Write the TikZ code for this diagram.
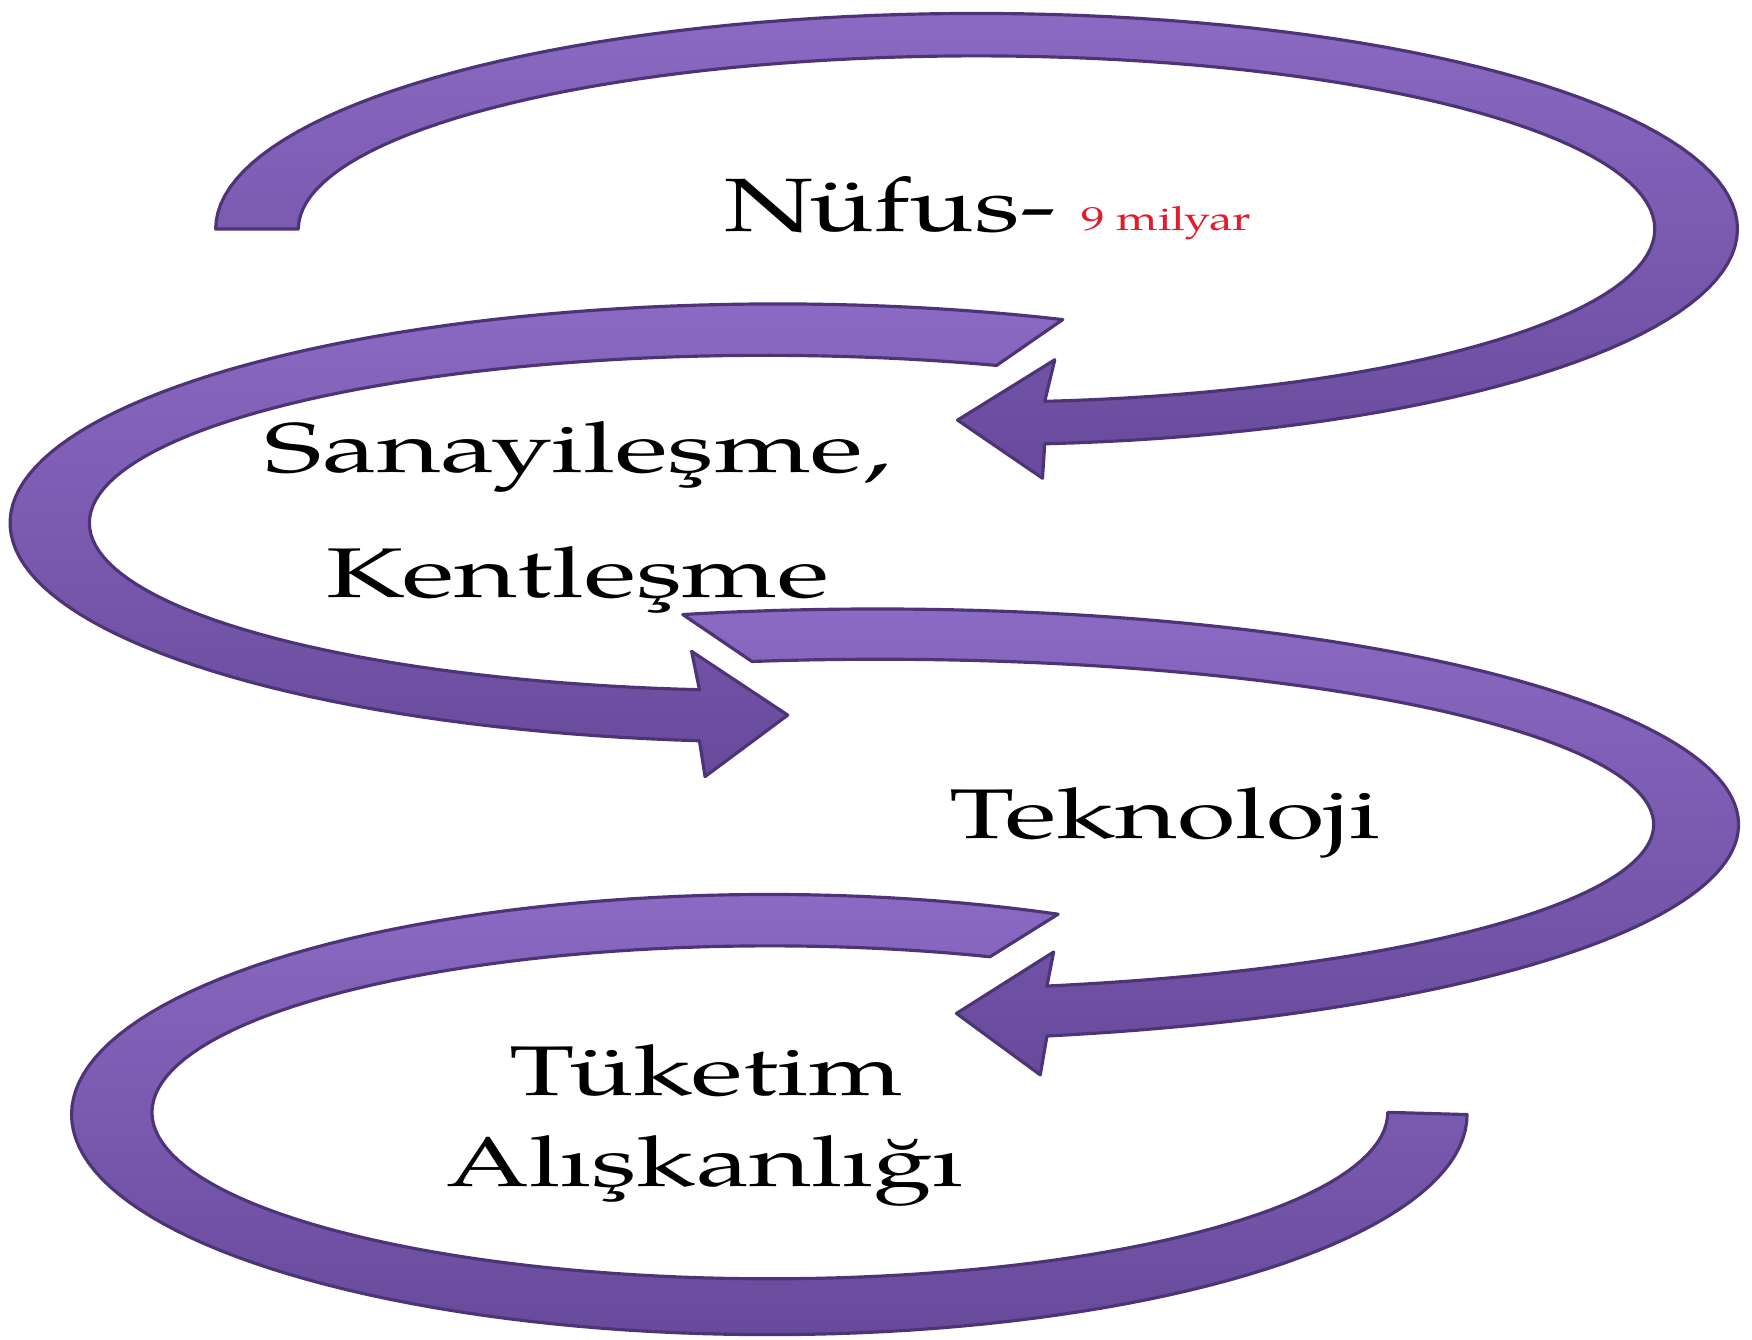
\documentclass[tikz,border=0pt]{standalone}
\usepackage{fontspec}
\setmainfont{TeX Gyre Pagella}
\usepackage{graphicx}
\usetikzlibrary{calc}
\newlength\pxu
\setlength\pxu{0.1117mm}
\definecolor{arrtop}{RGB}{138,106,194}
\definecolor{arrbot}{RGB}{104,74,156}
\definecolor{arredge}{RGB}{76,52,118}
\definecolor{redtxt}{RGB}{222,30,45}
\pgfdeclareradialshading{vign}{\pgfpoint{0bp}{0bp}}{color(0bp)=(white); color(36bp)=(white); color(71bp)=(black!10)}
\begin{document}
\begin{tikzpicture}[x=0.1117mm, y=0.1117mm,
  band/.style={top color=arrtop, bottom color=arrbot, draw=arredge, line width=0.9pt, line join=round},
  lbl/.style={anchor=base west, inner sep=0pt, outer sep=0pt, text=black}]
\shade[shading=vign] (0,0) rectangle (1568,-1199);
\useasboundingbox (0,0) rectangle (1568,-1199);

% Arrow 1 (top loop, head pointing left)
\path[band] plot[domain=180:-84.86, samples=120, variable=\t] ({874+681*cos(\t)},{-205+193*sin(\t)})
  -- (933,-428) -- (857,-376) -- (944,-322)
  -- plot[domain=-84.23:180, samples=120, variable=\t] ({874+607*cos(\t)},{-205+155*sin(\t)}) -- cycle;

% Arrow 2 (left loop, head pointing right)
\path[band] plot[domain=68.2:264.15, samples=100, variable=\t] ({696+687*cos(\t)},{-468+196*sin(\t)})
  -- (631,-695) -- (705,-640) -- (619,-583)
  -- plot[domain=264.4:70, samples=100, variable=\t] ({685+605*cos(\t)},{-468+150*sin(\t)}) -- cycle;

% Arrow 3 (right loop, head pointing left)
\path[band] plot[domain=103.04:-78.63, samples=120, variable=\t] ({785+771*cos(\t)},{-738+193*sin(\t)})
  -- (931,-962) -- (856,-907) -- (943,-852)
  -- plot[domain=-77.5:99.47, samples=120, variable=\t] ({787+693*cos(\t)},{-738+148*sin(\t)}) -- cycle;

% Arrow 4 (bottom loop, open end)
\path[band] plot[domain=65.55:360, samples=140, variable=\t] ({688.5+624.5*cos(\t)},{-997.5+197*sin(\t)})
  -- plot[domain=360:69.13, samples=140, variable=\t] ({689+553*cos(\t)},{-995.5+149*sin(\t)}) -- cycle;

% Labels
\node[lbl] (nufus) at (648,-207) {\resizebox{297\pxu}{\height}{\fontsize{21.5}{26}\selectfont Nüfus-}};
\node[lbl, text=redtxt] (milyar) at (968,-206) {\resizebox{152\pxu}{\height}{\fontsize{9.5}{11}\selectfont 9 milyar}};
\node[lbl] (sanayi) at (237,-423) {\resizebox{560\pxu}{\height}{\fontsize{20}{24}\selectfont Sanayileşme,}};
\node[lbl] (kent) at (292,-535) {\resizebox{450\pxu}{\height}{\fontsize{20}{24}\selectfont Kentleşme}};
\node[lbl] (tekno) at (850,-750) {\resizebox{385\pxu}{\height}{\fontsize{20}{24}\selectfont Teknoloji}};
\node[lbl] (tuketim) at (456,-980) {\resizebox{352\pxu}{\height}{\fontsize{20}{24}\selectfont Tüketim}};
\node[lbl] (aliskan) at (400,-1062) {\resizebox{462\pxu}{\height}{\fontsize{20}{24}\selectfont Alışkanlığı}};
\end{tikzpicture}
\end{document}
